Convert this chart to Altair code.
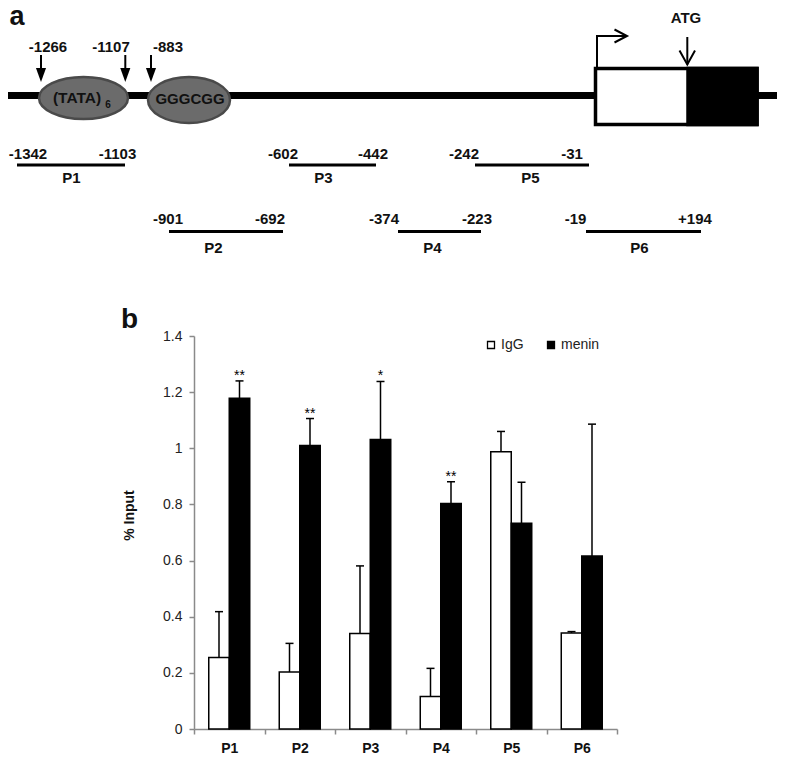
import altair as alt
import pandas as pd

FONT = "Liberation Sans"

# ---------------- panel b : ChIP values ----------------
primers = ["P1", "P2", "P3", "P4", "P5", "P6"]
groups = ["IgG", "menin"]
igg_val = [0.255, 0.203, 0.340, 0.116, 0.988, 0.342]
igg_err_top = [0.418, 0.305, 0.581, 0.216, 1.060, 0.347]
menin_val = [1.178, 1.010, 1.031, 0.803, 0.733, 0.616]
menin_err_top = [1.240, 1.106, 1.238, 0.881, 0.879, 1.086]
menin_stars = ["**", "**", "*", "**", "", ""]
y_tick_values = [0, 0.2, 0.4, 0.6, 0.8, 1, 1.2, 1.4]
y_title = "% Input"

# ---------------- panel a : promoter schematic (drawing units) ----------------
backbone_x = [2, 783]
backbone_y = 95.5
element_names = ["(TATA)", "GGGCGG"]
element_x = [83.5, 189.0]
element_y = [98.0, 100.0]
element_w = [89, 82]
element_h = [42, 46]
element_text_x = [77, 190]
element_text_y = [103, 103.5]
element_text_size = [15.5, 15]
subscript_text = ["6"]
subscript_x = [108]
subscript_y = [107.5]

site_labels = ["-1266", "-1107", "-883"]
site_label_x = [48, 111, 168]
site_label_y = 51.7
site_arrow_x = [41, 125.3, 151]
site_arrow_top = 55
site_arrow_head_y = 75

exon_white = [595.5, 688]
exon_black = [688, 757]
exon_y = [68.5, 124.5]

atg_label = "ATG"
atg_label_x = 686
atg_label_y = 23.3

# bent arrow (transcription start) and ATG arrow polylines
arrow_seg = ["tss", "tss", "tss", "tssh", "tssh", "tssh", "atg", "atg", "atgh", "atgh", "atgh"]
arrow_ord = [0, 1, 2, 0, 1, 2, 0, 1, 0, 1, 2]
arrow_px = [597, 597, 627, 614.5, 627, 614.5, 687.3, 687.3, 679.5, 687.3, 695]
arrow_py = [68, 36, 36, 29.5, 36, 42.5, 37, 64.5, 50.5, 64.5, 50.5]

primer_names = ["P1", "P2", "P3", "P4", "P5", "P6"]
primer_x0 = [17, 169, 289, 398, 475, 586]
primer_x1 = [125, 283, 376, 481, 589, 701]
primer_line_y = [165, 231.5, 165, 231.5, 165, 231.5]
primer_start = ["-1342", "-901", "-602", "-374", "-242", "-19"]
primer_end = ["-1103", "-692", "-442", "-223", "-31", "+194"]
primer_start_x = [28, 168, 283, 384, 464, 575.5]
primer_end_x = [117.5, 270, 373, 477, 572, 695]
primer_num_y = [159.3, 224.3, 159.3, 224.3, 159.3, 224.3]
primer_name_x = [71.5, 213.5, 323.5, 432.5, 530.5, 639.5]
primer_name_y = [182.7, 252.5, 182.7, 252.5, 182.7, 252.5]

panel_letters = ["a", "b"]
panel_letter_x = [17, 129.5]
panel_letter_y = [25, 328]
panel_letter_size = [27, 28]

# ---------------- build tables ----------------
bars = pd.DataFrame({
    "primer": primers * 2,
    "group": ["IgG"] * 6 + ["menin"] * 6,
    "value": igg_val + menin_val,
    "top": igg_err_top + menin_err_top,
    "star": [""] * 6 + menin_stars,
})
stars_df = bars[bars["star"] != ""]

DX = alt.Scale(domain=[0, 785], range=[-194, 591], nice=False, zero=False)
DY = alt.Scale(domain=[0, 757], range=[-336, 421], nice=False, zero=False)


def xq(f):
    return alt.X(f, type="quantitative", scale=DX, axis=None)


def yq(f):
    return alt.Y(f, type="quantitative", scale=DY, axis=None)


backbone = alt.Chart(pd.DataFrame({"x0": [backbone_x[0]], "x1": [backbone_x[1]], "y": [backbone_y]})).mark_rule(
    color="black", strokeWidth=7).encode(x=xq("x0"), x2=alt.X2("x1"), y=yq("y"))


def ellipse_path(w, h):
    r = h / w
    return f"M-1,0A1,{r:.3f} 0 1,1 1,0A1,{r:.3f} 0 1,1 -1,0Z"


ell_df = pd.DataFrame({
    "x": element_x, "y": element_y,
    "path": [ellipse_path(w, h) for w, h in zip(element_w, element_h)],
    "size": [w * w for w in element_w],
})
ellipses = alt.Chart(ell_df).mark_point(filled=True, fill="#6b6b6b", stroke="#4a4a4a", strokeWidth=2.5,
                                        opacity=1).encode(
    x=xq("x"), y=yq("y"),
    shape=alt.Shape("path:N", scale=None), size=alt.Size("size:Q", scale=None))

shaft_df = pd.DataFrame({"x": site_arrow_x, "y0": [site_arrow_top] * 3, "y1": [site_arrow_head_y - 4] * 3})
shafts = alt.Chart(shaft_df).mark_rule(color="black", strokeWidth=2).encode(
    x=xq("x"), y=yq("y0"), y2=alt.Y2("y1"))
heads = alt.Chart(pd.DataFrame({"x": site_arrow_x, "y": [site_arrow_head_y] * 3})).mark_point(
    filled=True, color="black", opacity=1, strokeWidth=0,
    shape="M-0.72,-1L0.72,-1L0,1Z", size=196).encode(x=xq("x"), y=yq("y"))

exon_box = alt.Chart(pd.DataFrame({"x0": [exon_white[0]], "x1": [exon_black[1]],
                                   "y0": [exon_y[0]], "y1": [exon_y[1]]})).mark_rect(
    fill="white", stroke="black", strokeWidth=3.5).encode(
    x=xq("x0"), x2=alt.X2("x1"), y=yq("y0"), y2=alt.Y2("y1"))
exon_cds = alt.Chart(pd.DataFrame({"x0": [exon_black[0]], "x1": [exon_black[1]],
                                   "y0": [exon_y[0]], "y1": [exon_y[1]]})).mark_rect(
    fill="black", stroke="black", strokeWidth=3.5).encode(
    x=xq("x0"), x2=alt.X2("x1"), y=yq("y0"), y2=alt.Y2("y1"))

arrows = alt.Chart(pd.DataFrame({"seg": arrow_seg, "ord": arrow_ord, "x": arrow_px, "y": arrow_py})).mark_line(
    color="black", strokeWidth=2, strokeJoin="miter", strokeCap="butt").encode(
    x=xq("x"), y=yq("y"), detail="seg:N", order="ord:Q")

primer_df = pd.DataFrame({"x0": primer_x0, "x1": primer_x1, "y": primer_line_y})
primer_lines = alt.Chart(primer_df).mark_rule(color="black", strokeWidth=3).encode(
    x=xq("x0"), x2=alt.X2("x1"), y=yq("y"))

txt_rows = []
for t, x, y, s in zip(panel_letters, panel_letter_x, panel_letter_y, panel_letter_size):
    txt_rows.append((t, x, y, s))
for t, x in zip(site_labels, site_label_x):
    txt_rows.append((t, x, site_label_y, 15))
txt_rows.append((atg_label, atg_label_x, atg_label_y, 15))
for t, x, y, s in zip(element_names, element_text_x, element_text_y, element_text_size):
    txt_rows.append((t, x, y, s))
for t, x, y in zip(subscript_text, subscript_x, subscript_y):
    txt_rows.append((t, x, y, 10))
for t, x, y in zip(primer_start, primer_start_x, primer_num_y):
    txt_rows.append((t, x, y, 15))
for t, x, y in zip(primer_end, primer_end_x, primer_num_y):
    txt_rows.append((t, x, y, 15))
for t, x, y in zip(primer_names, primer_name_x, primer_name_y):
    txt_rows.append((t, x, y, 15))
txt_df = pd.DataFrame(txt_rows, columns=["t", "x", "y", "fs"])
texts = alt.Chart(txt_df).mark_text(font=FONT, fontWeight="bold", color="#111111", align="center",
                                    baseline="alphabetic").encode(
    x=xq("x"), y=yq("y"), text="t:N", size=alt.Size("fs:Q", scale=None))

diagram = alt.layer(backbone, ellipses, shafts, heads, exon_box, exon_cds, arrows, primer_lines, texts)

# ---------------- bar chart ----------------
AX_GRAY = "#8a8a8a"
x_axis = alt.Axis(title=None, tickBand="extent", tickSize=5, tickColor=AX_GRAY, domainColor=AX_GRAY,
                  domainWidth=1.5, tickWidth=1.5, labelFont=FONT, labelFontWeight="bold", labelFontSize=14,
                  labelColor="#111111", labelPadding=7, labelAngle=0)
y_axis = alt.Axis(title=y_title, values=y_tick_values, format="~g", tickSize=5, tickColor=AX_GRAY,
                  domainColor=AX_GRAY, domainWidth=1.5, tickWidth=1.5, grid=False, labelFont=FONT,
                  labelFontSize=14, labelColor="#222222", labelPadding=7, titleFont=FONT, titleFontSize=14,
                  titleFontWeight="bold", titleColor="#111111", titlePadding=26, titleY=179)
X = alt.X("primer:N", scale=alt.Scale(domain=primers, paddingInner=0, paddingOuter=0), axis=x_axis)
XO = alt.XOffset("group:N", scale=alt.Scale(domain=groups, paddingInner=0, paddingOuter=0.72))
YS = alt.Scale(domain=[0, 1.4], nice=False, zero=True)

bar_marks = alt.Chart(bars).mark_bar(stroke="black", strokeWidth=1.5).encode(
    x=X, xOffset=XO, y=alt.Y("value:Q", scale=YS, axis=y_axis),
    fill=alt.Fill("group:N", scale=alt.Scale(domain=groups, range=["white", "black"]),
                  legend=alt.Legend(orient="none", legendX=290, legendY=2, direction="horizontal", title=None,
                                    symbolType="square", symbolSize=49, symbolStrokeColor="black",
                                    symbolStrokeWidth=1.3, labelFont=FONT, labelFontSize=14,
                                    labelColor="#222222", columnPadding=20, labelOffset=3, padding=0)))
err_rules = alt.Chart(bars).mark_rule(color="black", strokeWidth=1.5).encode(
    x=X, xOffset=XO, y=alt.Y("value:Q", scale=YS, axis=y_axis), y2=alt.Y2("top"))
err_caps = alt.Chart(bars).mark_tick(color="black", size=8, thickness=1.5, opacity=1).encode(
    x=X, xOffset=XO, y=alt.Y("top:Q", scale=YS, axis=y_axis))
star_text = alt.Chart(stars_df).mark_text(font=FONT, fontSize=14, color="black", baseline="alphabetic",
                                          dy=-1).encode(
    x=X, xOffset=XO, y=alt.Y("top:Q", scale=YS, axis=y_axis), text="star:N")

barchart = alt.layer(bar_marks, err_rules, err_caps, star_text)

chart = alt.layer(diagram, barchart).resolve_scale(x="independent", y="independent").properties(
    width=423, height=393,
    padding={"left": 186, "top": 328, "right": 160, "bottom": 28},
    autosize=alt.AutoSizeParams(type="none"),
    background="white",
).configure_view(stroke=None)

chart.save("out.html", embed_options={"renderer": "svg", "actions": False})
